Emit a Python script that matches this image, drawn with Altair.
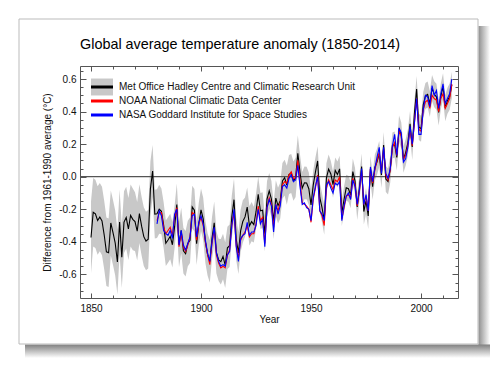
import altair as alt
import pandas as pd

FONT = "Liberation Sans"

# ---------------- data ----------------
years_hadcrut = list(range(1850, 2015))
hadcrut = [
    -0.373, -0.218, -0.228, -0.269, -0.248, -0.272, -0.358, -0.461, -0.467, -0.284,
    -0.343, -0.407, -0.524, -0.278, -0.494, -0.279, -0.251, -0.321, -0.238, -0.262,
    -0.276, -0.335, -0.227, -0.304, -0.368, -0.395, -0.384, -0.075, 0.035, -0.230,
    -0.227, -0.200, -0.213, -0.296, -0.409, -0.389, -0.367, -0.418, -0.307, -0.171,
    -0.416, -0.330, -0.455, -0.473, -0.410, -0.390, -0.186, -0.206, -0.412, -0.289,
    -0.203, -0.259, -0.402, -0.479, -0.520, -0.377, -0.283, -0.465, -0.511, -0.522,
    -0.490, -0.544, -0.437, -0.424, -0.244, -0.141, -0.383, -0.468, -0.333, -0.275,
    -0.247, -0.187, -0.302, -0.276, -0.294, -0.215, -0.108, -0.210, -0.206, -0.350,
    -0.137, -0.087, -0.137, -0.273, -0.131, -0.178, -0.147, -0.026, -0.006, -0.052,
    0.014, 0.020, -0.027, -0.004, 0.144, 0.025, -0.071, -0.038, -0.039, -0.074,
    -0.173, -0.052, 0.028, 0.097, -0.129, -0.190, -0.267, -0.007, 0.046, 0.017,
    -0.049, 0.038, 0.014, 0.048, -0.223, -0.140, -0.068, -0.074, -0.113, 0.032,
    -0.027, -0.186, -0.065, 0.062, -0.214, -0.149, -0.241, 0.047, -0.062, 0.057,
    0.092, 0.140, 0.011, 0.194, -0.014, -0.030, 0.045, 0.192, 0.198, 0.118,
    0.296, 0.254, 0.105, 0.148, 0.208, 0.325, 0.183, 0.390, 0.539, 0.306,
    0.294, 0.441, 0.496, 0.505, 0.447, 0.545, 0.506, 0.491, 0.395, 0.494,
    0.555, 0.421, 0.467, 0.492, 0.564,
]
# half width of the grey uncertainty range around the HadCRUT series
hadcrut_halfwidth = [
    0.22, 0.21, 0.21, 0.21, 0.21, 0.21, 0.21, 0.21, 0.21, 0.20,
    0.20, 0.20, 0.20, 0.20, 0.19, 0.19, 0.19, 0.19, 0.19, 0.19,
    0.18, 0.18, 0.18, 0.18, 0.18, 0.18, 0.18, 0.17, 0.16, 0.15,
    0.15, 0.15, 0.14, 0.14, 0.14, 0.14, 0.14, 0.14, 0.13, 0.13,
    0.14, 0.14, 0.14, 0.14, 0.14, 0.14, 0.13, 0.13, 0.13, 0.13,
    0.13, 0.13, 0.13, 0.13, 0.13, 0.13, 0.13, 0.13, 0.13, 0.14,
    0.14, 0.14, 0.13, 0.13, 0.13, 0.13, 0.13, 0.13, 0.13, 0.13,
    0.12, 0.12, 0.12, 0.12, 0.11, 0.11, 0.11, 0.11, 0.11, 0.11,
    0.11, 0.11, 0.11, 0.11, 0.11, 0.11, 0.11, 0.11, 0.11, 0.12,
    0.12, 0.12, 0.12, 0.12, 0.11, 0.11, 0.10, 0.10, 0.10, 0.10,
    0.09, 0.09, 0.09, 0.09, 0.09, 0.09, 0.09, 0.09, 0.09, 0.08,
    0.08, 0.08, 0.08, 0.08, 0.08, 0.08, 0.08, 0.08, 0.08, 0.08,
    0.08, 0.08, 0.08, 0.08, 0.08, 0.08, 0.08, 0.08, 0.08, 0.08,
    0.08, 0.08, 0.08, 0.08, 0.08, 0.08, 0.08, 0.08, 0.08, 0.08,
    0.08, 0.08, 0.08, 0.08, 0.08, 0.08, 0.08, 0.08, 0.08, 0.08,
    0.08, 0.08, 0.08, 0.08, 0.08, 0.08, 0.08, 0.08, 0.08, 0.08,
    0.08, 0.08, 0.08, 0.08, 0.08,
]
years_noaa_nasa = list(range(1880, 2015))
noaa = [
    -0.27, -0.22, -0.22, -0.31, -0.35, -0.33, -0.31, -0.36, -0.25, -0.19,
    -0.43, -0.35, -0.43, -0.46, -0.42, -0.37, -0.22, -0.23, -0.39, -0.29,
    -0.25, -0.30, -0.40, -0.48, -0.54, -0.41, -0.32, -0.48, -0.53, -0.56,
    -0.55, -0.56, -0.48, -0.45, -0.30, -0.22, -0.42, -0.50, -0.39, -0.36,
    -0.34, -0.30, -0.37, -0.35, -0.35, -0.29, -0.18, -0.27, -0.25, -0.41,
    -0.19, -0.13, -0.17, -0.31, -0.17, -0.21, -0.16, -0.05, -0.03, -0.04,
    0.01, 0.03, -0.01, -0.01, 0.10, -0.03, -0.16, -0.17, -0.18, -0.20,
    -0.28, -0.14, -0.07, 0.01, -0.21, -0.24, -0.30, -0.07, -0.02, -0.05,
    -0.08, -0.02, -0.03, 0.00, -0.26, -0.19, -0.12, -0.11, -0.13, -0.01,
    -0.05, -0.18, -0.09, 0.04, -0.17, -0.12, -0.21, 0.05, -0.04, 0.04,
    0.10, 0.15, 0.03, 0.17, 0.01, -0.02, 0.04, 0.18, 0.21, 0.13,
    0.28, 0.25, 0.11, 0.13, 0.19, 0.29, 0.19, 0.33, 0.48, 0.29,
    0.28, 0.41, 0.46, 0.47, 0.42, 0.50, 0.48, 0.47, 0.40, 0.48,
    0.51, 0.42, 0.45, 0.48, 0.57,
]
nasa = [
    -0.29, -0.21, -0.24, -0.33, -0.35, -0.36, -0.33, -0.38, -0.23, -0.20,
    -0.42, -0.33, -0.42, -0.45, -0.41, -0.37, -0.24, -0.23, -0.37, -0.28,
    -0.24, -0.29, -0.39, -0.47, -0.52, -0.40, -0.31, -0.47, -0.52, -0.55,
    -0.54, -0.55, -0.48, -0.46, -0.30, -0.20, -0.43, -0.52, -0.38, -0.36,
    -0.35, -0.28, -0.36, -0.34, -0.34, -0.30, -0.20, -0.29, -0.26, -0.43,
    -0.19, -0.14, -0.18, -0.34, -0.17, -0.23, -0.18, -0.06, -0.05, -0.07,
    -0.01, 0.01, -0.03, -0.02, 0.07, -0.06, -0.17, -0.16, -0.19, -0.20,
    -0.27, -0.13, -0.06, 0.00, -0.21, -0.23, -0.27, -0.05, -0.03, -0.07,
    -0.10, -0.04, -0.05, -0.03, -0.27, -0.18, -0.12, -0.10, -0.14, -0.02,
    -0.06, -0.17, -0.08, 0.05, -0.17, -0.11, -0.21, 0.06, -0.03, 0.05,
    0.12, 0.18, 0.02, 0.18, 0.02, -0.01, 0.05, 0.19, 0.26, 0.13,
    0.30, 0.27, 0.09, 0.11, 0.18, 0.31, 0.20, 0.33, 0.48, 0.26,
    0.26, 0.41, 0.50, 0.49, 0.43, 0.56, 0.50, 0.53, 0.42, 0.51,
    0.57, 0.45, 0.48, 0.51, 0.60,
]

series_names = [
    "Met Office Hadley Centre and Climatic Research Unit",
    "NOAA National Climatic Data Center",
    "NASA Goddard Institute for Space Studies",
]
series_colors = ["#000000", "#ff0000", "#0000ff"]
band_name = "HadCRUT uncertainty"

x_major = [1850, 1900, 1950, 2000]
x_minor = [1860, 1870, 1880, 1890, 1910, 1920, 1930, 1940, 1960, 1970, 1980, 1990, 2010]
y_major = [-0.6, -0.4, -0.2, 0.0, 0.2, 0.4, 0.6]
y_minor = [-0.7, -0.65, -0.55, -0.5, -0.45, -0.35, -0.3, -0.25, -0.15, -0.1, -0.05,
           0.05, 0.1, 0.15, 0.25, 0.3, 0.35, 0.45, 0.5, 0.55, 0.65]

assert len(hadcrut) == len(years_hadcrut) == len(hadcrut_halfwidth)
assert len(noaa) == len(years_noaa_nasa) == len(nasa)

band_df = pd.DataFrame({
    "year": years_hadcrut,
    "lo": [v - h for v, h in zip(hadcrut, hadcrut_halfwidth)],
    "hi": [v + h for v, h in zip(hadcrut, hadcrut_halfwidth)],
    "band": band_name,
})
had_df = pd.DataFrame({"year": years_hadcrut, "value": hadcrut, "series": series_names[0]})
noaa_df = pd.DataFrame({"year": years_noaa_nasa, "value": noaa, "series": series_names[1]})
nasa_df = pd.DataFrame({"year": years_noaa_nasa, "value": nasa, "series": series_names[2]})

W, H = 378, 232
xscale = alt.Scale(domain=[1845, 2016.8], nice=False, zero=False)
yscale = alt.Scale(domain=[-0.745, 0.68], nice=False, zero=False)
TICK = "#555555"


def tick_axis(orient, offset, values, size):
    return alt.Axis(orient=orient, offset=offset, values=values, labels=False,
                    domain=False, ticks=True, tickSize=size, tickColor=TICK,
                    tickWidth=1, title=None, grid=False, zindex=1)


color_enc_legend = alt.Legend(
    orient="none", legendX=15, legendY=14, title=None,
    symbolType="M-2,0H2", symbolSize=121, symbolStrokeWidth=3,
    symbolFillColor="transparent", labelFont=FONT, labelFontSize=10,
    labelColor="#111111", labelOffset=10, rowPadding=1, padding=0, zindex=2,
    labelLimit=400,
)
color_enc = alt.Color("series:N", scale=alt.Scale(domain=series_names, range=series_colors),
                      legend=color_enc_legend)

# ---------------- decoration: card with drop shadow ----------------
one = alt.Data(values=[{}])
shadow_r = alt.Chart(one).mark_rect(
    fill=alt.LinearGradient(gradient="linear", x1=0, x2=1, y1=0, y2=0,
                            stops=[alt.GradientStop(offset=0, color="#8f8f8f"),
                                   alt.GradientStop(offset=1, color="#ffffff")])
).encode(x=alt.value(398.5), x2=alt.value(410), y=alt.value(-40), y2=alt.value(292))
shadow_b = alt.Chart(one).mark_rect(
    fill=alt.LinearGradient(gradient="linear", x1=0, x2=0, y1=0, y2=1,
                            stops=[alt.GradientStop(offset=0, color="#808080"),
                                   alt.GradientStop(offset=1, color="#ffffff")])
).encode(x=alt.value(-55), x2=alt.value(410), y=alt.value(278.5), y2=alt.value(292))
card = alt.Chart(one).mark_rect(fill="transparent", stroke="#bbbbbb", strokeWidth=1).encode(
    x=alt.value(-61), x2=alt.value(398), y=alt.value(-47), y2=alt.value(278))

# ---------------- data layers ----------------
band = alt.Chart(band_df).mark_area(opacity=1).encode(
    x=alt.X("year:Q", scale=xscale, axis=alt.Axis(
        orient="bottom", values=x_major, format="d", ticks=False, tickSize=0,
        domain=False, labelPadding=5, labelFlush=False, title="Year",
        titlePadding=1, zindex=1)),
    y=alt.Y("lo:Q", scale=yscale, axis=alt.Axis(
        orient="left", values=y_major, ticks=False, tickSize=0, domain=False,
        labelPadding=4, labelFlush=False,
        labelExpr="(datum.value < 0 ? '-' : '') + format(abs(datum.value), '.1f')",
        title="Difference from 1961-1990 average (°C)", titlePadding=6, zindex=1)),
    y2="hi:Q",
    fill=alt.Fill("band:N", scale=alt.Scale(domain=[band_name], range=["#c8c8c8"]),
                  legend=alt.Legend(orient="none", legendX=11, legendY=10, title=None,
                                    symbolType="M-1,-0.77H1V0.77H-1Z", symbolSize=484,
                                    symbolStrokeWidth=0, labelExpr="''", padding=0,
                                    zindex=1)),
)

zero = alt.Chart(pd.DataFrame({"z": [0.0]})).mark_rule(color="#555555", strokeWidth=1.2).encode(
    y=alt.Y("z:Q", scale=yscale, axis=None))

LW = 1.1
had_line = alt.Chart(had_df).mark_line(strokeWidth=LW).encode(
    x=alt.X("year:Q", scale=xscale, axis=tick_axis("top", -H, x_major, 5)),
    y=alt.Y("value:Q", scale=yscale, axis=tick_axis("right", -W, y_major, 6)),
    color=color_enc,
)
noaa_line = alt.Chart(noaa_df).mark_line(strokeWidth=LW).encode(
    x=alt.X("year:Q", scale=xscale, axis=tick_axis("top", -H, x_minor, 3)),
    y=alt.Y("value:Q", scale=yscale, axis=tick_axis("right", -W, y_minor, 3)),
    color=color_enc,
)
nasa_line = alt.Chart(nasa_df).mark_line(strokeWidth=LW).encode(
    x=alt.X("year:Q", scale=xscale, axis=tick_axis("bottom", -H, x_major, 5)),
    y=alt.Y("value:Q", scale=yscale, axis=tick_axis("left", -W, y_major, 6)),
    color=color_enc,
)
ghost = alt.Chart(had_df).mark_line(strokeOpacity=0).encode(
    x=alt.X("year:Q", scale=xscale, axis=tick_axis("bottom", -H, x_minor, 3)),
    y=alt.Y("value:Q", scale=yscale, axis=tick_axis("left", -W, y_minor, 3)),
)

chart = alt.layer(
    shadow_r, shadow_b, card, band, zero, had_line, noaa_line, nasa_line, ghost
).resolve_axis(
    x="independent", y="independent"
).properties(
    width=W, height=H,
    autosize=alt.AutoSizeParams(type="none"),
    padding={"left": 72, "top": 58, "right": 33, "bottom": 62},
    title=alt.TitleParams(
        "Global average temperature anomaly (1850-2014)", anchor="start", frame="group",
        font=FONT, fontSize=14.4, fontWeight="normal", color="#000000",
        baseline="alphabetic", offset=-45, zindex=1),
).configure_view(
    stroke="#555555", strokeWidth=1
).configure_axis(
    labelFont=FONT, titleFont=FONT, labelFontSize=10, titleFontSize=10,
    titleFontWeight="normal", labelColor="#111111", titleColor="#111111", grid=False,
)

chart.save("out.html", embed_options={"renderer": "svg", "actions": False})
